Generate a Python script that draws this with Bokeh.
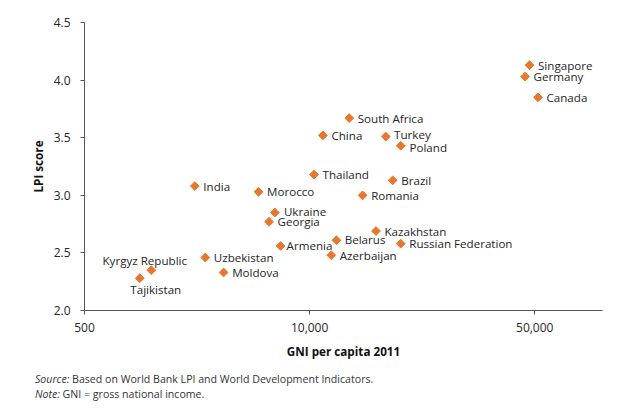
from bokeh.plotting import figure
from bokeh.layouts import column
from bokeh.models import ColumnDataSource, FixedTicker, NumeralTickFormatter, Range1d, Div
from bokeh.core.properties import value
from bokeh.embed import file_html
from bokeh.resources import INLINE

# ---- data ----
countries = ["Singapore", "Germany", "Canada", "South Africa", "China", "Turkey",
             "Poland", "Thailand", "Brazil", "India", "Morocco", "Romania",
             "Ukraine", "Georgia", "Kazakhstan", "Belarus", "Russian Federation",
             "Armenia", "Azerbaijan", "Uzbekistan", "Kyrgyz Republic", "Moldova",
             "Tajikistan"]
gni_per_capita = [47400, 45300, 51700, 7500, 5730, 10900,
                  12700, 5230, 11700, 1545, 2965, 8600,
                  3505, 3300, 9860, 6575, 12700,
                  3715, 6240, 1720, 990, 2075,
                  880]
lpi_score = [4.13, 4.03, 3.85, 3.67, 3.52, 3.51,
             3.43, 3.18, 3.13, 3.08, 3.03, 3.00,
             2.85, 2.77, 2.69, 2.61, 2.58,
             2.56, 2.48, 2.46, 2.35, 2.33,
             2.28]
x_ticks = [500, 5000, 50000]
x_tick_labels = ["500", "10,000", "50,000"]
y_ticks = [2.0, 2.5, 3.0, 3.5, 4.0, 4.5]
source_note = "Based on World Bank LPI and World Development Indicators."
gni_note = "GNI = gross national income."

# label placement (pixels, screen space)
label_dx = [8.5] * len(countries)
label_dy = [0.0] * len(countries)
label_align = ["left"] * len(countries)
special = {
    "Armenia": (6, 0, "left"),
    "Turkey": (8.3, -2.5, "left"),
    "Poland": (8.7, 1.6, "left"),
    "Ukraine": (9, -0.6, "left"),
    "Belarus": (8.3, -1, "left"),
    "Kyrgyz Republic": (-6.5, -10, "center"),
    "Tajikistan": (16, 11.5, "center"),
}
for i, c in enumerate(countries):
    if c in special:
        label_dx[i], label_dy[i], label_align[i] = special[c]

src = ColumnDataSource(dict(gni=gni_per_capita, lpi=lpi_score, name=countries,
                            dx=label_dx, dy=label_dy, align=label_align))

FONT = "Open Sans"
ORANGE = "#E8772E"
AXIS = "#555555"
TXT = "#262626"

p = figure(width=624, height=362, x_axis_type="log",
           x_range=Range1d(500, 100000), y_range=Range1d(2.0, 4.5),
           output_backend="svg", toolbar_location=None,
           min_border_left=84, min_border_right=22,
           min_border_top=22, min_border_bottom=52)
p.outline_line_color = None
p.grid.visible = False
p.background_fill_color = "white"
p.border_fill_color = "white"

p.scatter(x="gni", y="lpi", source=src, marker="square", angle=0.785398,
          size=6.2, fill_color=ORANGE, line_color=ORANGE)
p.text(x="gni", y="lpi", text="name", source=src, x_offset="dx", y_offset="dy",
       text_align="align", text_baseline="middle",
       text_font=value(FONT), text_font_size="11.6px", text_color=TXT)

# axes
for ax in (p.xaxis[0], p.yaxis[0]):
    ax.axis_line_color = AXIS
    ax.major_tick_line_color = AXIS
    ax.major_tick_in = 0
    ax.major_tick_out = 4
    ax.minor_tick_line_color = None
    ax.major_label_text_font = FONT
    ax.major_label_text_font_size = "12px"
    ax.major_label_text_color = TXT
    ax.axis_label_text_font = FONT
    ax.axis_label_text_font_size = "11.7px"
    ax.axis_label_text_font_style = "bold"
    ax.axis_label_text_color = "#111111"

p.xaxis.ticker = FixedTicker(ticks=x_ticks)
p.xaxis.major_label_overrides = {float(t): l for t, l in zip(x_ticks, x_tick_labels)}
p.xaxis.major_label_standoff = 8
p.xaxis.axis_label = "GNI per capita 2011"
p.xaxis.axis_label_standoff = 8

p.yaxis.ticker = FixedTicker(ticks=y_ticks)
p.yaxis.formatter = NumeralTickFormatter(format="0.0")
p.yaxis.major_label_standoff = 10
p.yaxis.axis_label = "LPI score"
p.yaxis.axis_label_standoff = 5

# footnotes
style = ("font-family:'Open Sans';font-size:10.6px;line-height:15px;color:#333333;"
         "padding:10px 0 0 35px;margin:0;white-space:nowrap;")
notes = Div(text=(f'<div style="{style}"><i>Source:</i> {source_note}<br>'
                  f'<i>Note:</i> {gni_note}</div>'),
            width=624, height=45, margin=0)

layout = column(p, notes, spacing=0)
open("out.html", "w").write(file_html(layout, INLINE))
